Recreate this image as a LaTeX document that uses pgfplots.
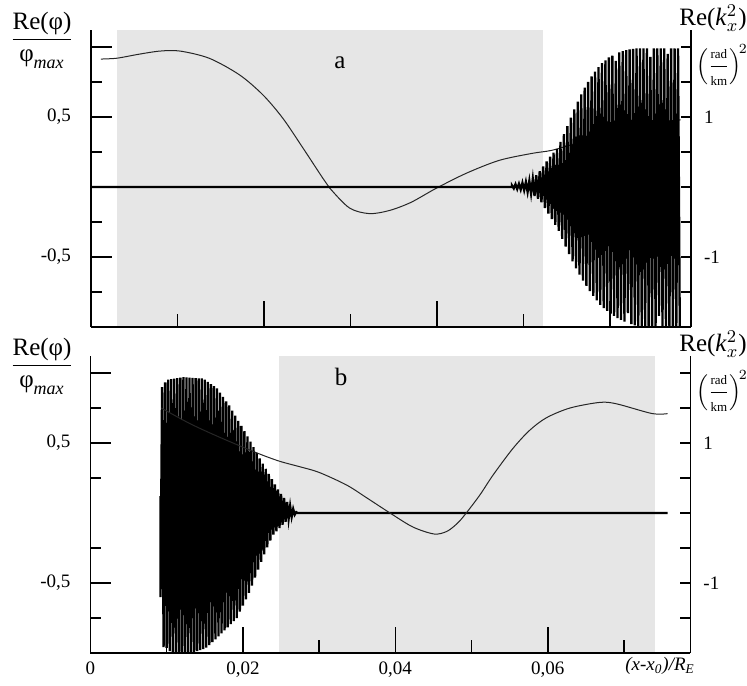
\documentclass[border=0pt]{standalone}
\usepackage{pgfplots}
\pgfplotsset{compat=1.18}
\usepackage{amsmath}
\usepackage{fontspec}
\setmainfont{Liberation Serif}
\definecolor{shade}{RGB}{230,230,230}
\newcommand\lab{\fontsize{9.5}{11}\selectfont}

\pgfplotsset{
  common/.style={scale only axis, width=300pt, height=148.4pt,
    scaled x ticks=false, scaled y ticks=false,
    axis line style={line width=0.75pt},
    every tick/.style={black, line width=0.75pt},
    tick align=inside},
  panel/.style={common,
    ymin=-1, ymax=1.12,
    axis x line*=bottom, axis y line*=left,
    xtick=\empty,
    ytick={-0.5,0.5,1}, yticklabels={{-0,5},{0,5},{}},
    minor ytick={-0.75,-0.25,0.25,0.75},
    major tick length=10.5pt, minor tick length=5.5pt,
    yticklabel style={font=\lab, xshift=-6.5pt},
  },
  rside/.style={common,
    ymin=-2, ymax=2.24,
    axis y line*=right, axis x line=none,
    ytick={-1,1}, yticklabels={-1,1},
    minor ytick={-1.5,-0.5,0,0.5,1.5,2},
    major tick length=5pt, minor tick length=5pt,
    yticklabel style={font=\lab, xshift=3pt},
  },
  xside/.style={common,
    ymin=-1, ymax=1.12,
    axis x line*=bottom, axis y line=none,
    major tick length=13pt, minor tick length=6.5pt,
    xticklabel style={font=\lab, yshift=-1pt},
  },
  smoothcurve/.style={black!85, line width=0.5pt, smooth, tension=0.5},
  wave/.style={black, line width=1.15pt, line join=miter},
}

\begin{document}
\begin{tikzpicture}
\path[use as bounding box] (0,0) rectangle (373.5pt,-342.5pt);

% panel a
\begin{axis}[panel, at={(45.5pt,-163.5pt)}, anchor=south west,
    xmin=0, xmax=0.0694]
  \addplot[draw=none, fill=shade] coordinates {(0.0030,-1) (0.0523,-1) (0.0523,1.12) (0.0030,1.12)};
  \addplot[smoothcurve] coordinates {
    (0.00115,0.914) (0.0030,0.92) (0.0055,0.948) (0.0080,0.971) (0.0103,0.971)
    (0.0137,0.919) (0.0172,0.80) (0.0199,0.657) (0.0222,0.49) (0.0245,0.28)
    (0.0268,0.064) (0.0276,-0.007) (0.0299,-0.15) (0.0322,-0.19) (0.0345,-0.168)
    (0.0370,-0.11) (0.0399,-0.01) (0.0434,0.098) (0.0472,0.19) (0.0510,0.24)
    (0.0533,0.262) (0.0560,0.31) (0.0588,0.36) (0.0634,0.43) (0.0682,0.48)};
  \addplot[wave] coordinates {
    (0,0) (0.0487,0)
    (0.0487,0.01) (0.0489,-0.01) (0.0491,0.02) (0.0493,-0.015)
    (0.0495,0.022) (0.0497,-0.018) (0.0499,0.03) (0.0501,-0.023)
    (0.0503,0.036) (0.0505,-0.035) (0.0507,0.044) (0.0509,-0.047)
    (0.0511,0.057) (0.0513,-0.065) (0.0515,0.085) (0.0517,-0.085)
    (0.0519,0.113) (0.0521,-0.11) (0.0523,0.147) (0.0525,-0.15)
    (0.0527,0.183) (0.0529,-0.19) (0.0531,0.217) (0.0533,-0.23)
    (0.0535,0.245) (0.0537,-0.27) (0.0539,0.273) (0.0541,-0.314)
    (0.0543,0.322) (0.0545,-0.37) (0.0547,0.378) (0.0549,-0.426)
    (0.0551,0.435) (0.0553,-0.479) (0.0555,0.495) (0.0557,-0.531)
    (0.0559,0.555) (0.0561,-0.581) (0.0563,0.609) (0.0565,-0.625)
    (0.0567,0.661) (0.0569,-0.669) (0.0571,0.71) (0.0573,-0.707)
    (0.0575,0.75) (0.0577,-0.743) (0.0579,0.79) (0.0581,-0.778)
    (0.0583,0.824) (0.0585,-0.81) (0.0587,0.856) (0.0589,-0.842)
    (0.0591,0.885) (0.0593,-0.865) (0.0595,0.905) (0.0597,-0.885)
    (0.0599,0.925) (0.0601,-0.904) (0.0603,0.939) (0.0605,-0.92)
    (0.0607,0.90) (0.0609,-0.936) (0.0611,0.962) (0.0613,-0.949)
    (0.0615,0.97) (0.0617,-0.961) (0.0619,0.978) (0.0621,-0.90)
    (0.0623,0.983) (0.0625,-0.98) (0.0627,0.987) (0.0629,-0.988)
    (0.0631,0.99) (0.0633,-0.993) (0.0635,0.99) (0.0637,-1.0)
    (0.0639,0.99) (0.0641,-1.0) (0.0643,0.99) (0.0645,-1.0)
    (0.0647,0.93) (0.0649,-1.0) (0.0651,0.99) (0.0653,-1.0)
    (0.0655,0.99) (0.0657,-0.92) (0.0659,0.99) (0.0661,-1.0)
    (0.0663,0.99) (0.0665,-1.0) (0.0667,0.95) (0.0669,-1.0)
    (0.0671,0.99) (0.0673,-1.0) (0.0675,0.99) (0.0677,-1.0)
    (0.0679,0.99) (0.0681,-1.0)};
\end{axis}
\begin{axis}[rside, at={(45.5pt,-163.5pt)}, anchor=south west,
    xmin=0, xmax=0.0694]
\end{axis}
\begin{axis}[xside, at={(45.5pt,-163.5pt)}, anchor=south west,
    xmin=0, xmax=0.0694,
    xtick={0.02,0.04,0.06}, xticklabels={},
    minor xtick={0.01,0.03,0.05}]
\end{axis}

% panel b
\begin{axis}[panel, at={(45.2pt,-326.5pt)}, anchor=south west,
    xmin=0, xmax=0.0787]
  \addplot[draw=none, fill=shade] coordinates {(0.0247,-1) (0.0741,-1) (0.0741,1.12) (0.0247,1.12)};
  \addplot[wave] coordinates {
    (0.0092,0.12) (0.0092,-0.6)
    (0.0094,0.90) (0.0096,-0.957) (0.0098,0.933) (0.0100,-0.964)
    (0.0102,0.952) (0.0104,-0.986) (0.0106,0.956) (0.0108,-1.0)
    (0.0110,0.96) (0.0112,-1.0) (0.0114,0.963) (0.0116,-1.0)
    (0.0118,0.967) (0.0120,-1.0) (0.0122,0.97) (0.0124,-1.0)
    (0.0126,0.968) (0.0128,-1.0) (0.0130,0.967) (0.0132,-0.999)
    (0.0134,0.965) (0.0136,-0.993) (0.0138,0.964) (0.0140,-0.986)
    (0.0142,0.962) (0.0144,-0.979) (0.0146,0.961) (0.0148,-0.972)
    (0.0150,0.952) (0.0152,-0.962) (0.0154,0.937) (0.0156,-0.944)
    (0.0158,0.921) (0.0160,-0.923) (0.0162,0.906) (0.0164,-0.902)
    (0.0166,0.89) (0.0168,-0.881) (0.0170,0.859) (0.0172,-0.86)
    (0.0174,0.829) (0.0176,-0.839) (0.0178,0.798) (0.0180,-0.817)
    (0.0182,0.768) (0.0184,-0.794) (0.0186,0.732) (0.0188,-0.772)
    (0.0190,0.695) (0.0192,-0.75) (0.0194,0.658) (0.0196,-0.705)
    (0.0198,0.622) (0.0200,-0.661) (0.0202,0.585) (0.0204,-0.616)
    (0.0206,0.548) (0.0208,-0.571) (0.0210,0.51) (0.0212,-0.518)
    (0.0214,0.47) (0.0216,-0.461) (0.0218,0.43) (0.0220,-0.405)
    (0.0222,0.39) (0.0224,-0.348) (0.0226,0.353) (0.0228,-0.295)
    (0.0230,0.316) (0.0232,-0.246) (0.0234,0.279) (0.0236,-0.197)
    (0.0238,0.242) (0.0240,-0.154) (0.0242,0.205) (0.0244,-0.131)
    (0.0246,0.168) (0.0248,-0.108) (0.0250,0.136) (0.0252,-0.085)
    (0.0254,0.107) (0.0256,-0.062) (0.0258,0.079) (0.0260,-0.042)
    (0.0262,0.05) (0.0264,-0.027) (0.0266,0.028) (0.0268,-0.012)
    (0.0270,0.006) (0.0272,0) (0.0757,0)};
  \addplot[smoothcurve] coordinates {
    (0.0093,0.75) (0.0130,0.64) (0.0170,0.54) (0.0218,0.43) (0.0248,0.37)
    (0.0275,0.33) (0.0300,0.29) (0.0336,0.20) (0.0362,0.11) (0.0393,0.0)
    (0.0423,-0.10) (0.0451,-0.15) (0.0468,-0.13) (0.0482,-0.07) (0.0493,0.0)
    (0.0511,0.13) (0.0528,0.27) (0.0554,0.46) (0.0576,0.59) (0.0598,0.68)
    (0.0629,0.75) (0.0668,0.79) (0.0690,0.78) (0.0737,0.71) (0.0757,0.71)};
\end{axis}
\begin{axis}[rside, at={(45.2pt,-326.5pt)}, anchor=south west,
    xmin=0, xmax=0.0787]
\end{axis}
\begin{axis}[xside, at={(45.2pt,-326.5pt)}, anchor=south west,
    xmin=0, xmax=0.0787,
    xtick={0,0.02,0.04,0.06}, xticklabels={0,{0,02},{0,04},{0,06}},
    minor xtick={0.01,0.03,0.05,0.07}]
\end{axis}

\begin{scope}[x=0.5pt, y=-0.5pt]
  \node[font=\fontsize{12.5}{14}\selectfont] at (42,40)
    {$\dfrac{\mbox{Re(φ)}}{\mbox{φ}_{\mbox{\fontsize{9}{10}\selectfont\itshape max}}}$};
  \node[font=\fontsize{12.5}{14}\selectfont] at (42,366)
    {$\dfrac{\mbox{Re(φ)}}{\mbox{φ}_{\mbox{\fontsize{9}{10}\selectfont\itshape max}}}$};
  \node[font=\fontsize{12.5}{14}\selectfont, inner sep=1pt] at (713,18) {Re(\textit{k}$^{2}_{x}$)};
  \node[font=\fontsize{12.5}{14}\selectfont, inner sep=1pt] at (713,344) {Re(\textit{k}$^{2}_{x}$)};
  \node[font=\fontsize{10}{11}\selectfont, inner sep=1pt] at (722,65)
    {$\left(\dfrac{\mbox{\fontsize{6.5}{7}\selectfont rad}}{\mbox{\fontsize{6.5}{7}\selectfont km}}\right)^{\!2}$};
  \node[font=\fontsize{10}{11}\selectfont, inner sep=1pt] at (722,391)
    {$\left(\dfrac{\mbox{\fontsize{6.5}{7}\selectfont rad}}{\mbox{\fontsize{6.5}{7}\selectfont km}}\right)^{\!2}$};
  \node[font=\fontsize{12.5}{14}\selectfont, anchor=base] at (340,68) {a};
  \node[font=\fontsize{12.5}{14}\selectfont, anchor=base] at (341,385) {b};
  \node[font=\lab] at (660,666) {\textit{(x-x}$_{\mathit{0}}$\textit{)/R}$_{\mathit{E}}$};
\end{scope}
\end{tikzpicture}
\end{document}
